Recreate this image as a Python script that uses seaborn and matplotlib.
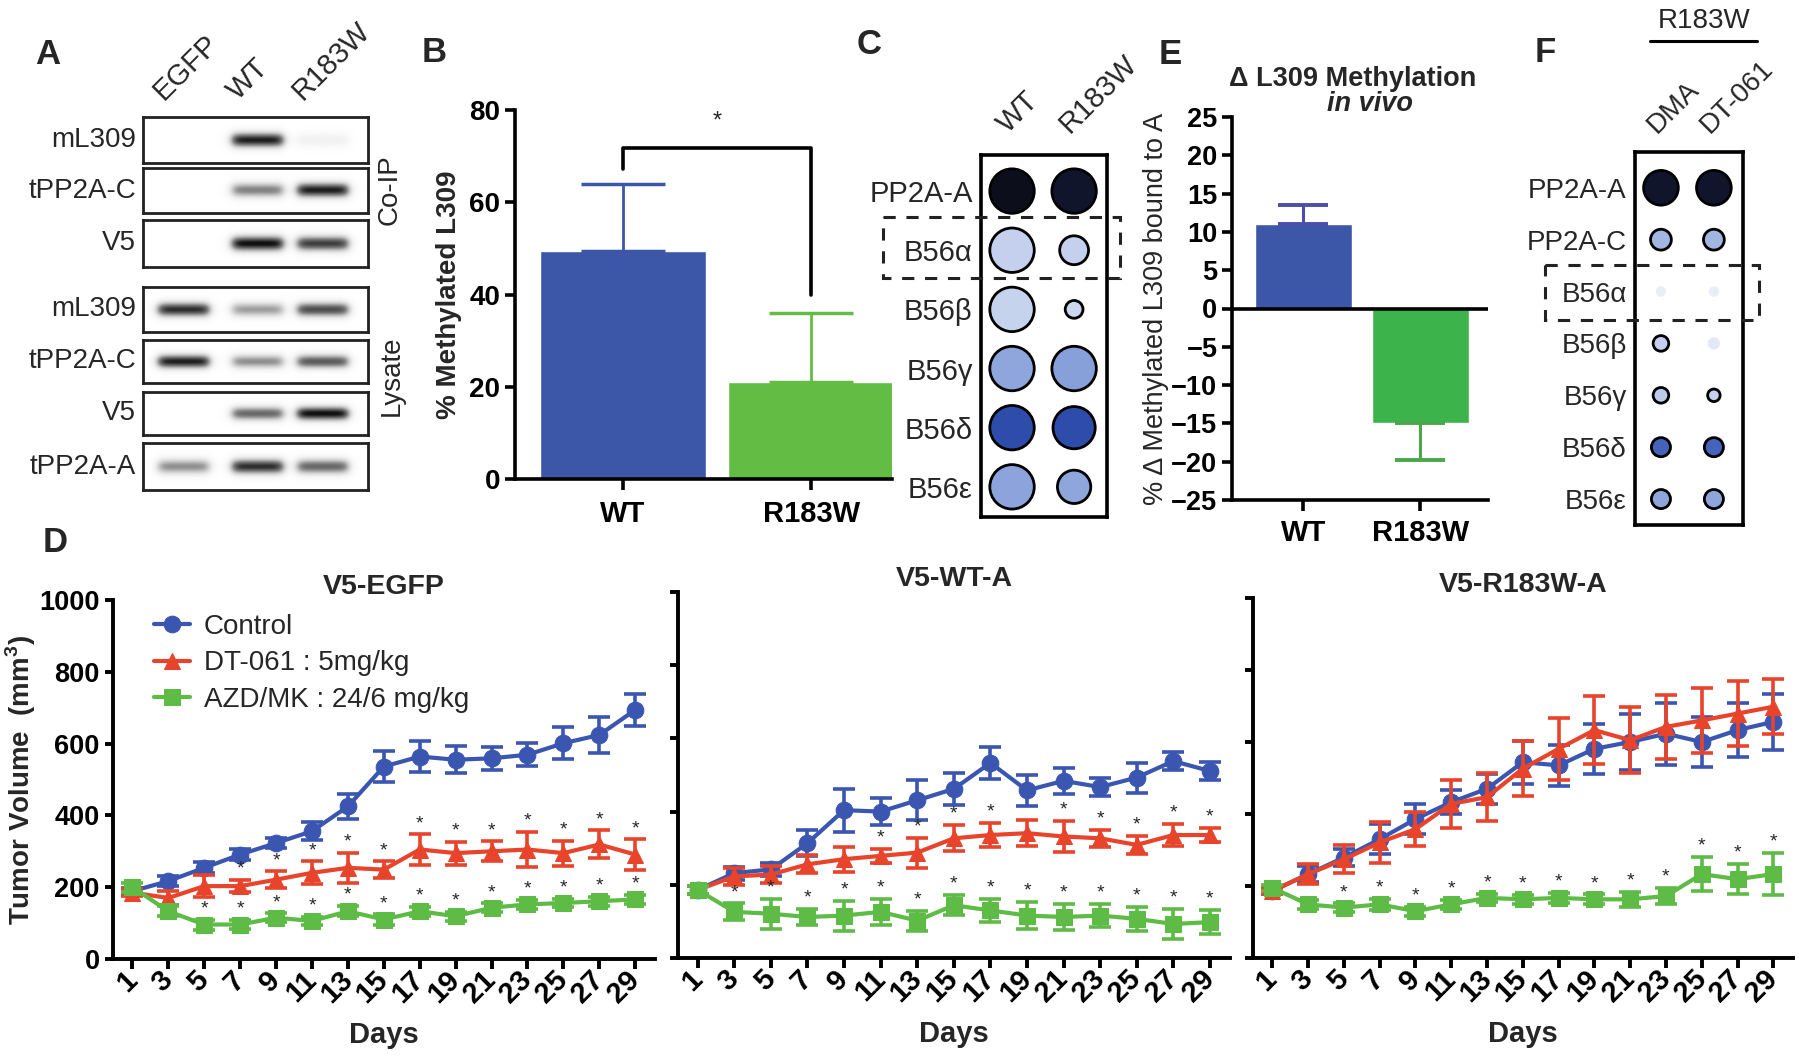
import numpy as np
import pandas as pd
import seaborn as sns
import matplotlib.pyplot as plt
from matplotlib.colors import LinearSegmentedColormap
from matplotlib.patches import Rectangle
from matplotlib.lines import Line2D

# ---------------- data ----------------
# A: western blot band intensity per lane (EGFP, WT, R183W)
lanes = ["EGFP", "WT", "R183W"]
blot_rows = ["mL309", "tPP2A-C", "V5", "mL309", "tPP2A-C", "V5", "tPP2A-A"]
blot_intensity = [
    [0.00, 0.95, 0.12],
    [0.00, 0.60, 0.95],
    [0.00, 1.00, 0.85],
    [0.90, 0.50, 0.80],
    [0.95, 0.55, 0.75],
    [0.00, 0.70, 1.00],
    [0.55, 0.90, 0.70],
]

# B: % methylated L309
b_groups = ["WT", "R183W"]
b_mean = [49.5, 21.0]
b_sd = [14.5, 15.0]

# C: B56 binding dot plot (relative abundance -> size, signal -> colour)
c_cols = ["WT", "R183W"]
c_rows = ["PP2A-A", "B56α", "B56β", "B56γ", "B56δ", "B56ε"]
c_abund = [[1.0, 1.0], [1.0, 0.65], [1.0, 0.40], [1.0, 1.0], [1.0, 0.95], [1.0, 0.75]]
c_signal = [[1.0, 0.97], [0.22, 0.22], [0.21, 0.19], [0.45, 0.47], [0.76, 0.76], [0.46, 0.45]]

# E: delta L309 methylation in vivo
e_mean = [11.0, -14.9]
e_sd = [2.5, 4.9]

# F: R183W cells, DMA vs DT-061
f_cols = ["DMA", "DT-061"]
f_rows = ["PP2A-A", "PP2A-C", "B56α", "B56β", "B56γ", "B56δ", "B56ε"]
f_abund = [[1.0, 1.0], [0.60, 0.60], [0.30, 0.30], [0.45, 0.35], [0.45, 0.36], [0.55, 0.55], [0.55, 0.55]]
f_signal = [[0.97, 0.97], [0.36, 0.36], [0.05, 0.05], [0.22, 0.08], [0.25, 0.22], [0.68, 0.68], [0.45, 0.45]]

# D: tumour growth (mean, sd) per day
days = list(range(1, 30, 2))
groups = ["Control", "DT-061 : 5mg/kg", "AZD/MK : 24/6 mg/kg"]

egfp_ctl = [189, 217, 254, 291, 323, 356, 425, 536, 564, 555, 559, 569, 601, 624, 694]
egfp_ctl_sd = [10, 15, 15, 15, 15, 25, 35, 42, 44, 37, 32, 32, 44, 51, 44]
egfp_dt = [185, 170, 203, 203, 221, 240, 254, 249, 305, 295, 300, 305, 295, 319, 291]
egfp_dt_sd = [10, 20, 30, 17, 23, 32, 42, 23, 42, 32, 28, 50, 35, 39, 42]
egfp_azd = [200, 133, 96, 96, 115, 106, 133, 110, 133, 119, 143, 152, 156, 161, 166]
egfp_azd_sd = [12, 14, 14, 12, 12, 12, 14, 14, 12, 12, 12, 12, 12, 12, 12]
egfp_star_dt = [7, 9, 11, 13, 15, 17, 19, 21, 23, 25, 27, 29]
egfp_star_azd = [5, 7, 9, 11, 13, 15, 17, 19, 21, 23, 25, 27, 29]

wt_ctl = [186, 232, 242, 314, 404, 400, 431, 462, 533, 458, 484, 467, 493, 538, 511]
wt_ctl_sd = [10, 18, 18, 36, 59, 36, 55, 43, 43, 43, 36, 25, 41, 25, 25]
wt_dt = [186, 223, 228, 256, 270, 279, 288, 327, 336, 341, 332, 327, 309, 336, 336]
wt_dt_sd = [10, 23, 23, 25, 34, 20, 41, 36, 32, 36, 43, 23, 25, 30, 20]
wt_azd = [186, 126, 121, 112, 116, 126, 102, 144, 130, 116, 112, 116, 107, 93, 98]
wt_azd_sd = [10, 23, 41, 23, 41, 36, 27, 27, 32, 36, 36, 32, 32, 41, 32]
wt_star_dt = [11, 13, 15, 17, 21, 23, 25, 27, 29]
wt_star_azd = [3, 5, 7, 9, 11, 13, 15, 17, 19, 21, 23, 25, 27, 29]

mut_ctl = [186, 233, 279, 330, 386, 433, 470, 544, 535, 581, 600, 623, 600, 633, 656]
mut_ctl_sd = [8, 23, 23, 42, 42, 33, 42, 60, 58, 70, 77, 86, 70, 74, 77]
mut_dt = [186, 233, 274, 321, 358, 428, 447, 526, 581, 633, 605, 642, 660, 679, 698]
mut_dt_sd = [8, 28, 39, 56, 48, 67, 67, 77, 86, 95, 91, 88, 91, 91, 77]
mut_azd = [195, 149, 140, 149, 130, 149, 167, 163, 167, 163, 163, 172, 233, 219, 233]
mut_azd_sd = [8, 12, 12, 15, 12, 12, 12, 12, 14, 14, 20, 22, 48, 42, 58]
mut_star_dt = []
mut_star_azd = [5, 7, 9, 11, 13, 15, 17, 19, 21, 23, 25, 27, 29]

# ---------------- style ----------------
sns.set_style("ticks")
plt.rcParams["font.family"] = ["Liberation Sans", "DejaVu Sans"]
plt.rcParams["mathtext.fontset"] = "custom"
plt.rcParams["mathtext.bf"] = "Liberation Sans:bold"

BLUE, RED, GREEN = "#3a56b0", "#e8442c", "#5dbb46"
BAR_BLUE, BAR_GREEN, E_GREEN = "#3d57a8", "#63bd45", "#3cb44b"
dot_cmap = LinearSegmentedColormap.from_list(
    "dots", [(0, "#f3f5fb"), (0.2, "#c8d4ee"), (0.45, "#8fa6dc"), (0.75, "#3050b0"), (1.0, "#0c0e1c")])

W, H = 1800, 1063
fig = plt.figure(figsize=(W / 100, H / 100), dpi=100)


def px_axes(x0, y0, x1, y1):
    return fig.add_axes([x0 / W, 1 - y1 / H, (x1 - x0) / W, (y1 - y0) / H])


def style_axis(ax, lw=2.6, size=19):
    sns.despine(ax=ax)
    for s in ("left", "bottom"):
        ax.spines[s].set_linewidth(lw)
        ax.spines[s].set_color("black")
    ax.tick_params(direction="out", length=7, width=lw, colors="black", labelsize=size)
    for lab in ax.get_xticklabels() + ax.get_yticklabels():
        lab.set_fontweight("bold")


def letter(x, y, s):
    fig.text(x / W, 1 - y / H, s, fontsize=25, fontweight="bold", ha="center", va="center")


# ---------------- A: blots ----------------
lane_pos = [0.18, 0.51, 0.80]
blot_boxes = [(117, 163), (168, 213), (220, 267), (287, 332), (340, 383), (392, 435), (443, 490)]
xs, ys = np.meshgrid(np.linspace(0, 1, 300), np.linspace(0, 1, 60))
for i, (label, vals) in enumerate(zip(blot_rows, blot_intensity)):
    y0, y1 = blot_boxes[i]
    ax = px_axes(143, y0, 368, y1)
    img = np.zeros_like(xs)
    for c, v in zip(lane_pos, vals):
        horiz = 1 / (1 + np.exp(-(xs - (c - 0.115)) / 0.012)) / (1 + np.exp((xs - (c + 0.115)) / 0.012))
        img += v * horiz * np.exp(-((ys - 0.5) / 0.16) ** 2)
    ax.imshow(img, cmap="Greys", vmin=0, vmax=1.05, extent=(0, 1, 0, 1), aspect="auto", interpolation="bilinear")
    ax.set_xticks([])
    ax.set_yticks([])
    for sp in ax.spines.values():
        sp.set_linewidth(2)
        sp.set_color("#222222")
    ax.text(-0.03, 0.5, label, transform=ax.transAxes, ha="right", va="center", fontsize=20)
    if i == 0:
        for c, lane in zip(lane_pos, lanes):
            ax.text(c - 0.07, 1.26, lane, transform=ax.transAxes, rotation=45, rotation_mode="anchor",
                    ha="left", va="bottom", fontsize=21)
fig.text(390 / W, 1 - 190 / H, "Co-IP", rotation=90, ha="center", va="center", fontsize=20)
fig.text(392 / W, 1 - 376 / H, "Lysate", rotation=90, ha="center", va="center", fontsize=20)
letter(48, 55, "A")

# ---------------- B: bar ----------------
axB = px_axes(515, 110, 892, 479)
dfB = pd.DataFrame({"group": b_groups, "value": b_mean})
sns.barplot(data=dfB, x="group", y="value", hue="group", palette=[BAR_BLUE, BAR_GREEN],
            width=0.88, saturation=1, legend=False, ax=axB)
for i, (m, s, col) in enumerate(zip(b_mean, b_sd, [BAR_BLUE, BAR_GREEN])):
    axB.errorbar(i, m, yerr=[[0], [s]], fmt="none", ecolor=col, elinewidth=2, capsize=30, capthick=2.5)
axB.plot([0, 0, 1, 1], [67.2, 71.8, 71.8, 40], color="black", lw=2.6, clip_on=False)
axB.text(0.5, 77.4, "*", ha="center", va="center", fontsize=17)
axB.set_ylim(0, 80)
axB.set_yticks([0, 20, 40, 60, 80])
axB.set_xlim(-0.574, 1.43)
axB.set_xlabel("")
axB.set_ylabel("% Methylated L309", fontsize=20, fontweight="bold", labelpad=5)
style_axis(axB, size=20)
axB.tick_params(axis="x", labelsize=21, length=8, pad=7)
letter(434, 52, "B")


# ---------------- C / F: dot plots ----------------
def dot_panel(box, cols, rows, abund, signal, dmax, xlim, ylim, dash, lab_size, col_pad):
    ax = px_axes(*box)
    rr, cc = np.meshgrid(range(len(rows)), range(len(cols)), indexing="ij")
    a = np.array(abund).ravel()
    s = np.array(signal).ravel()
    edges = ["black" if v >= 0.15 else "none" for v in s]
    ax.scatter(cc.ravel(), rr.ravel(), s=(dmax * a) ** 2, c=s, cmap=dot_cmap, vmin=0, vmax=1,
               edgecolors=edges, linewidths=2, zorder=3)
    ax.set_xlim(*xlim)
    ax.set_ylim(*ylim)
    ax.set_yticks(range(len(rows)), rows)
    ax.xaxis.tick_top()
    ax.set_xticks(range(len(cols)), cols)
    ax.tick_params(axis="y", length=0, pad=6, labelsize=lab_size)
    ax.tick_params(axis="x", length=0, pad=col_pad, labelsize=lab_size)
    for t in ax.get_xticklabels():
        t.set_rotation(45)
        t.set_rotation_mode("anchor")
        t.set_ha("left")
        t.set_va("bottom")
    for sp in ax.spines.values():
        sp.set_linewidth(2.6)
        sp.set_color("black")
    x0, x1, y0, y1 = dash
    ax.add_patch(Rectangle((x0, y0), x1 - x0, y1 - y0, fill=False, ls=(0, (4, 3.5)), lw=2.2,
                           ec="#222222", clip_on=False, zorder=4))
    return ax


dot_panel((981, 155, 1107, 517), c_cols, c_rows, c_abund, c_signal, 32, (-0.5, 1.53), (5.51, -0.61),
          (-2.08, 1.74, 0.43, 1.47), 21, 12)
letter(869, 45, "C")

dot_panel((1635, 152, 1743, 525), f_cols, f_rows, f_abund, f_signal, 25, (-0.49, 1.55), (6.5, -0.69),
          (-2.19, 1.85, 1.48, 2.54), 20, 10)
fig.text(1704 / W, 1 - 21 / H, "R183W", ha="center", va="center", fontsize=20)
fig.add_artist(Line2D([1650 / W, 1757 / W], [1 - 41 / H] * 2, color="black", lw=2.2))
letter(1545, 52, "F")

# ---------------- E: delta bar ----------------
axE = px_axes(1232, 117, 1488, 500)
dfE = pd.DataFrame({"group": b_groups, "value": e_mean})
sns.barplot(data=dfE, x="group", y="value", hue="group", palette=[BAR_BLUE, E_GREEN],
            width=0.83, saturation=1, legend=False, ax=axE)
for i, (m, s, col) in enumerate(zip(e_mean, e_sd, ["#4a4fa8", "#4aa84a"])):
    yerr = [[0], [s]] if m > 0 else [[s], [0]]
    axE.errorbar(i, m, yerr=yerr, fmt="none", ecolor=col, elinewidth=2.2, capsize=18, capthick=2.8)
axE.axhline(0, color="black", lw=2.6)
axE.set_ylim(-25, 25)
axE.set_yticks(range(-25, 26, 5))
axE.set_xlim(-0.61, 1.58)
axE.set_xlabel("")
axE.set_ylabel("% Δ Methylated L309 bound to A", fontsize=19.5, labelpad=2)
style_axis(axE, size=19.5)
axE.tick_params(axis="x", labelsize=21, length=8, pad=6)
axE.text(0.47, 1.10, "Δ L309 Methylation", transform=axE.transAxes, ha="center", va="center",
         fontsize=19.5, fontweight="bold")
axE.text(0.54, 1.035, "in vivo", transform=axE.transAxes, ha="center", va="center",
         fontsize=19.5, fontweight="bold", style="italic")
letter(1170, 55, "E")

# ---------------- D: growth curves ----------------
panels = [
    ((113, 600, 655, 959), "V5-EGFP",
     [(egfp_ctl, egfp_ctl_sd), (egfp_dt, egfp_dt_sd), (egfp_azd, egfp_azd_sd)], egfp_star_dt, egfp_star_azd),
    ((678, 592, 1230, 958), "V5-WT-A",
     [(wt_ctl, wt_ctl_sd), (wt_dt, wt_dt_sd), (wt_azd, wt_azd_sd)], wt_star_dt, wt_star_azd),
    ((1253, 598, 1793, 958), "V5-R183W-A",
     [(mut_ctl, mut_ctl_sd), (mut_dt, mut_dt_sd), (mut_azd, mut_azd_sd)], mut_star_dt, mut_star_azd),
]
styles = [(BLUE, "o", 12), (RED, "^", 12), (GREEN, "s", 11)]

for k, (box, title, series, star_dt, star_azd) in enumerate(panels):
    ax = px_axes(*box)
    for name, (mean, sd), (col, mk, ms) in zip(groups, series, styles):
        sns.lineplot(x=days, y=mean, ax=ax, color=col, marker=mk, markersize=ms, markeredgecolor=col,
                     lw=3, label=name if k == 0 else None, legend=False)
        ax.errorbar(days, mean, yerr=sd, fmt="none", ecolor=col, elinewidth=2.6, capsize=8, capthick=2.6)
    for (mean, sd), star_days in zip(series[1:], [star_dt, star_azd]):
        for d in star_days:
            i = days.index(d)
            ax.text(d, mean[i] + sd[i] + 30, "*", ha="center", va="center", fontsize=14)
    ax.set_xlim(-0.08, 30.1)
    ax.set_ylim(0, 1000)
    ax.set_yticks(range(0, 1001, 200))
    ax.set_xticks(days)
    ax.set_xlabel("Days", fontsize=21, fontweight="bold", labelpad=9)
    ax.set_title(title, fontsize=20.5, fontweight="bold", pad=1)
    if k == 0:
        ax.set_ylabel("Tumor Volume  (mm$^{\\mathbf{3}}$)", fontsize=20, fontweight="bold", labelpad=1)
        ax.legend(loc="upper left", bbox_to_anchor=(0.05, 1.0), frameon=False, fontsize=20,
                  handlelength=1.3, labelspacing=0.38, handletextpad=0.5, borderaxespad=0.1)
    else:
        ax.set_ylabel("")
        ax.set_yticklabels([])
    style_axis(ax, lw=2.8, size=19.5)
    ax.tick_params(axis="y", length=6)
    ax.tick_params(axis="x", length=7, pad=5, labelsize=21)
    for t in ax.get_xticklabels():
        t.set_rotation(45)
        t.set_rotation_mode("anchor")
        t.set_ha("right")
        t.set_va("center")
letter(55, 542, "D")

fig.savefig("out.png", dpi=100, facecolor="white")
